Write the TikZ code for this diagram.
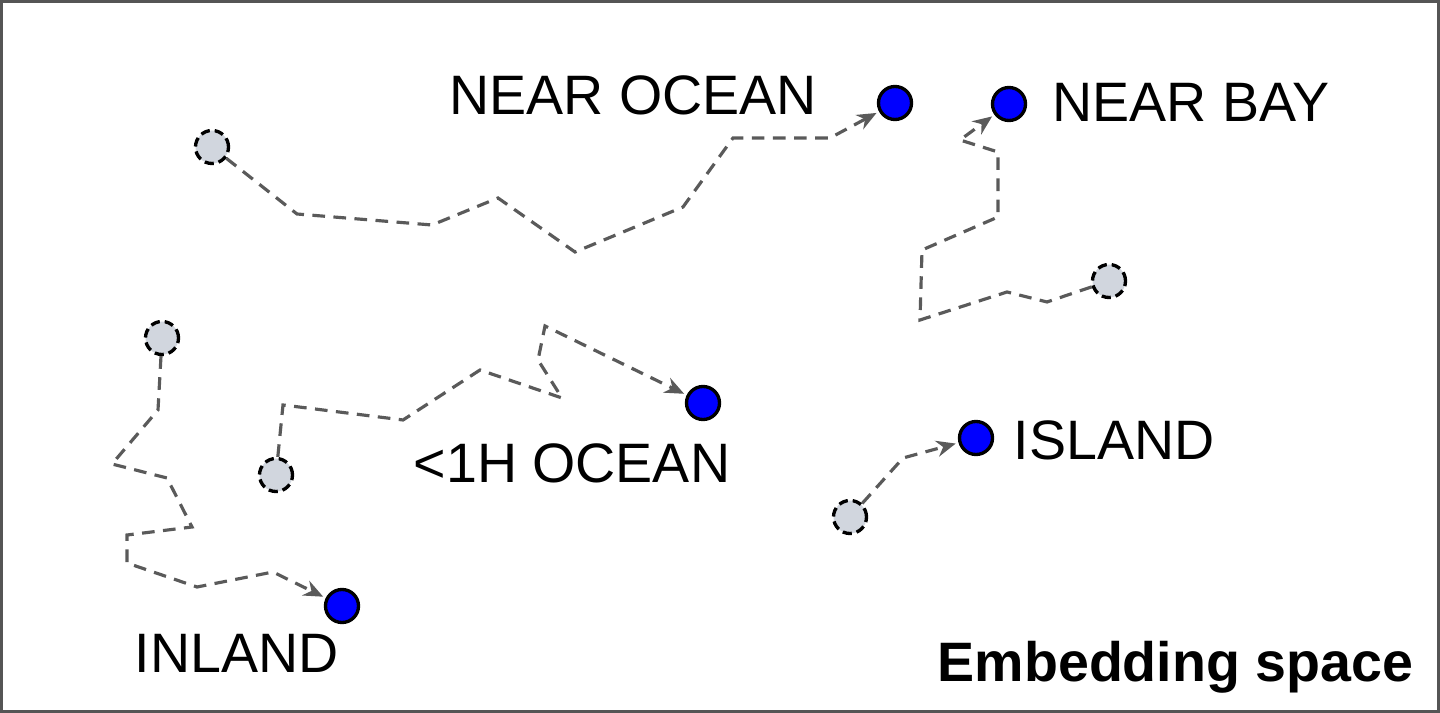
\documentclass[tikz,border=0pt]{standalone}
\usepackage{fontspec}
\setmainfont{Liberation Sans}
\usetikzlibrary{arrows.meta}

\definecolor{ptgray}{RGB}{209,214,222}
\definecolor{walkgray}{RGB}{90,90,90}
\definecolor{framegray}{RGB}{85,85,85}

\tikzset{
  newpt/.style={circle, draw=black, line width=0.95pt, fill=blue, minimum size=0.33cm, inner sep=0pt},
  oldpt/.style={circle, draw=black, line width=0.95pt, dash pattern=on 2.6pt off 1.4pt, fill=ptgray, minimum size=0.33cm, inner sep=0pt},
  walk/.style={draw=walkgray, line width=0.9pt, dash pattern=on 3.6pt off 2.4pt, -{Stealth[length=5.5pt,width=4.6pt]}, shorten >=0.8pt},
  lbl/.style={anchor=base west, inner sep=0pt, font=\fontsize{15.8}{18}\selectfont},
}

\begin{document}
\begin{tikzpicture}[x=0.01cm, y=-0.01cm]
\useasboundingbox (0,0) rectangle (1440,713);
% frame
\draw[framegray, line width=0.85pt] (1.5,1.5) rectangle (1438.5,711.5);

% points before training
\node[oldpt] (oOcean) at (212,147) {};
\node[oldpt] (oBay)   at (1109,281) {};
\node[oldpt] (oInl)   at (162,338) {};
\node[oldpt] (oHour)  at (276,475) {};
\node[oldpt] (oIsl)   at (850,517) {};

% points after training
\node[newpt] (nOcean) at (895,103) {};
\node[newpt] (nBay)   at (1009,104) {};
\node[newpt] (nInl)   at (342,606) {};
\node[newpt] (nHour)  at (703,403) {};
\node[newpt] (nIsl)   at (976,438) {};

% labels
\node[lbl] (tOcean) at (449,115) {NEAR OCEAN};
\node[lbl] (tBay)   at (1052,122) {NEAR BAY};
\node[lbl] (tHour)  at (413,482) {<1H OCEAN};
\node[lbl] (tInl)   at (134,672) {INLAND};
\node[lbl] (tIsl)   at (1013,460) {ISLAND};
\node[lbl, font=\fontsize{15.8}{18}\selectfont\bfseries] (tSpace) at (937,681) {Embedding space};

% random walks
\draw[walk] (oOcean) -- (297,214) -- (432,225) -- (498,198) -- (575,252) -- (683,207)
  -- (733,138) -- (830,138) -- (nOcean);
\draw[walk] (oBay) -- (1047,302) -- (1007,292) -- (920,320) -- (922,250) -- (998,217)
  -- (998,152) -- (960,140) -- (nBay);
\draw[walk] (oInl) -- (158,410) -- (112,464) -- (167,478) -- (192,527) -- (127,535)
  -- (127,563) -- (197,587) -- (273,572) -- (nInl);
\draw[walk] (oHour) -- (283,405) -- (403,420) -- (480,370) -- (562,398) -- (538,360)
  -- (545,326) -- (nHour);
\draw[walk] (oIsl) -- (903,458) -- (nIsl);

\end{tikzpicture}
\end{document}
